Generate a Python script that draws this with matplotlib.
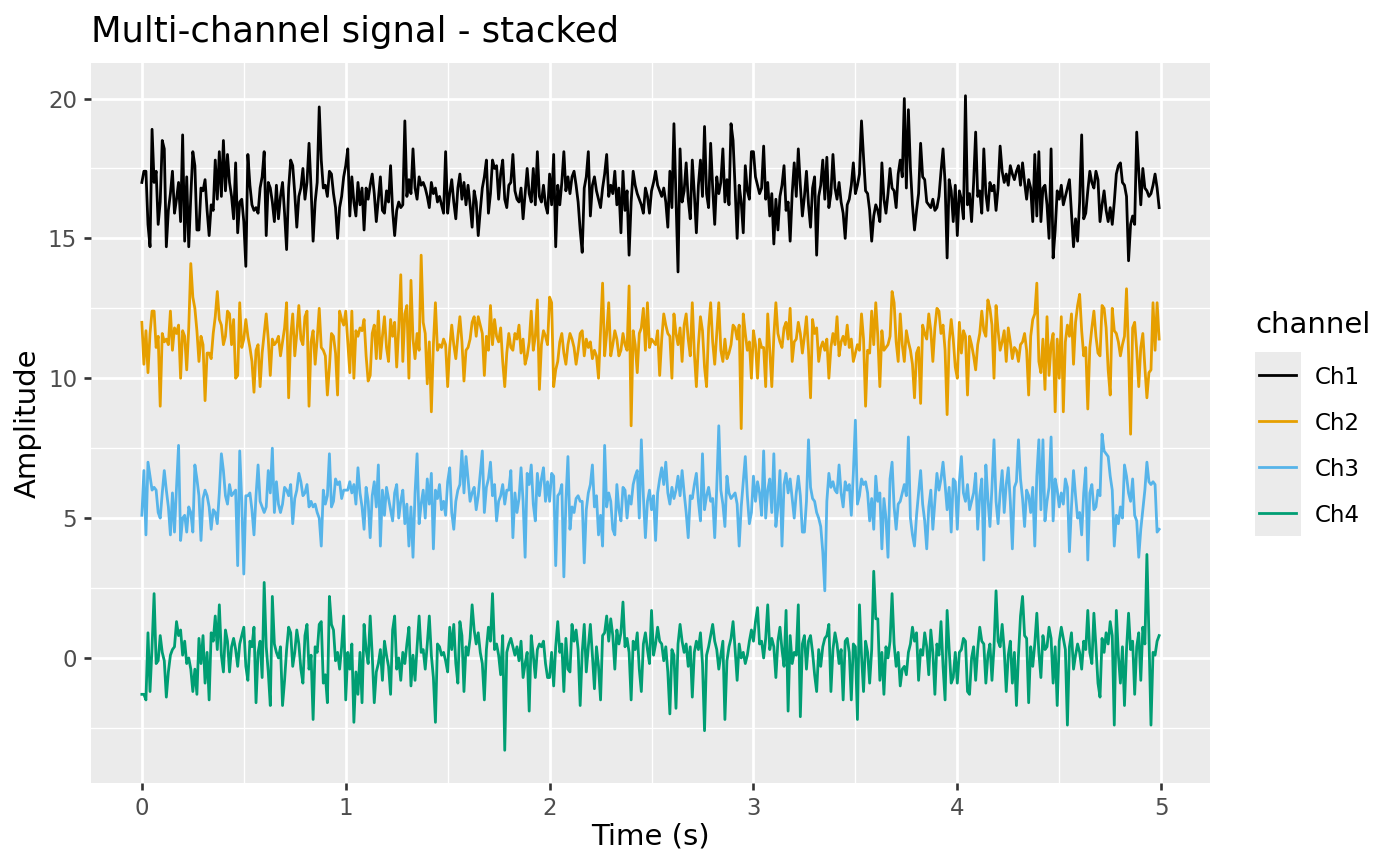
import numpy as np
import matplotlib
matplotlib.use("Agg")
import matplotlib.pyplot as plt
from matplotlib.ticker import MultipleLocator
from matplotlib.lines import Line2D
from matplotlib.patches import Rectangle

# 100 samples per second, 500 samples per channel
sample_rate = 100
n_samples = 500

channels = ["Ch1", "Ch2", "Ch3", "Ch4"]
colors = ["#000000", "#E69F00", "#56B4E9", "#009E73"]

ch1 = [
    17.0, 17.4, 17.4, 15.5, 14.7, 18.9, 17.0, 17.4, 15.5, 16.3,
    18.5, 18.2, 14.7, 16.0, 16.6, 17.4, 15.9, 16.4, 17.0, 15.6,
    18.7, 14.9, 17.2, 14.7, 16.5, 18.1, 17.6, 15.3, 15.3, 16.8,
    16.7, 17.1, 16.0, 15.1, 16.2, 16.0, 17.8, 16.4, 18.1, 16.5,
    18.5, 16.7, 18.0, 17.0, 16.5, 15.7, 17.7, 15.2, 16.3, 16.4,
    15.6, 14.0, 18.0, 16.9, 16.2, 16.0, 16.1, 15.9, 16.8, 17.2,
    18.1, 15.1, 17.0, 16.8, 16.3, 15.6, 16.9, 15.7, 16.5, 17.0,
    15.9, 14.6, 16.8, 17.8, 17.6, 16.6, 15.4, 16.5, 16.8, 17.5,
    16.4, 17.0, 18.4, 16.8, 14.9, 16.3, 17.0, 19.7, 17.8, 16.8,
    16.9, 16.5, 17.4, 17.3, 16.6, 16.1, 15.0, 16.1, 16.5, 17.2,
    17.6, 18.2, 15.8, 17.2, 16.3, 15.8, 17.0, 16.2, 16.8, 15.3,
    16.8, 16.4, 16.9, 17.3, 16.6, 15.6, 16.4, 17.2, 16.0, 15.9,
    16.7, 16.3, 17.6, 16.0, 15.1, 16.0, 16.3, 16.1, 16.2, 19.2,
    16.5, 17.1, 16.6, 18.2, 16.8, 16.4, 17.2, 16.9, 17.0, 16.8,
    16.5, 16.1, 17.0, 16.6, 16.8, 16.3, 16.5, 16.2, 15.9, 18.1,
    15.9, 16.6, 17.1, 16.3, 15.7, 16.8, 17.3, 16.4, 17.0, 16.2,
    16.9, 16.2, 15.4, 16.7, 16.3, 15.1, 16.0, 16.8, 17.2, 17.8,
    15.9, 16.6, 17.8, 17.5, 17.6, 16.4, 17.3, 17.8, 16.4, 16.1,
    16.9, 17.0, 18.0, 16.7, 16.4, 16.3, 16.8, 15.7, 16.6, 17.5,
    16.6, 16.3, 17.5, 16.2, 18.1, 16.5, 16.3, 16.9, 16.2, 15.9,
    17.3, 16.2, 18.0, 14.7, 16.9, 16.2, 17.0, 18.1, 16.7, 17.2,
    16.6, 17.2, 17.4, 16.9, 16.3, 15.3, 14.5, 16.8, 17.2, 18.1,
    15.8, 16.9, 17.2, 16.7, 16.4, 16.1, 16.8, 17.3, 18.0, 16.5,
    16.9, 16.6, 17.4, 16.2, 16.8, 15.2, 17.4, 16.0, 16.7, 14.4,
    16.3, 17.4, 16.9, 16.6, 16.4, 16.2, 15.9, 16.8, 16.5, 15.9,
    16.7, 17.0, 17.4, 16.9, 16.7, 16.5, 16.8, 16.3, 15.4, 17.4,
    16.1, 19.1, 16.4, 13.8, 18.2, 16.3, 16.7, 17.7, 16.4, 15.7,
    17.8, 16.6, 15.2, 16.9, 17.8, 16.5, 19.0, 16.6, 16.1, 18.4,
    16.8, 15.5, 17.2, 16.6, 17.0, 18.2, 16.3, 17.1, 16.2, 19.1,
    18.5, 16.8, 15.0, 16.9, 16.3, 15.2, 17.6, 16.7, 16.4, 18.1,
    18.1, 17.2, 16.9, 16.6, 16.8, 18.3, 16.4, 17.0, 15.8, 16.6,
    14.8, 16.4, 15.3, 16.5, 16.9, 17.6, 16.0, 16.3, 14.9, 16.6,
    17.7, 16.5, 18.2, 16.9, 15.8, 16.5, 17.4, 16.2, 15.4, 16.8,
    17.2, 14.4, 16.5, 16.9, 17.8, 16.4, 17.9, 16.1, 16.6, 18.0,
    16.8, 16.4, 17.0, 16.3, 15.9, 15.0, 16.2, 16.4, 16.9, 17.7,
    16.6, 16.9, 17.3, 19.2, 17.9, 16.7, 16.6, 16.0, 14.9, 15.8,
    16.2, 16.0, 15.6, 17.7, 16.4, 15.9, 16.6, 17.5, 16.8, 16.7,
    16.1, 17.3, 17.8, 17.2, 20.0, 16.8, 19.6, 17.5, 16.2, 15.3,
    16.0, 16.6, 18.4, 17.2, 17.1, 16.3, 16.2, 16.1, 16.4, 16.0,
    16.1, 16.5, 17.4, 18.2, 17.0, 14.3, 17.1, 16.7, 15.6, 16.9,
    15.1, 16.7, 16.4, 15.7, 20.1, 16.2, 16.6, 15.6, 17.0, 18.8,
    16.5, 16.7, 15.9, 18.2, 16.6, 16.0, 17.0, 16.7, 16.9, 16.0,
    16.8, 18.3, 17.4, 17.0, 17.3, 16.9, 17.6, 17.3, 17.1, 17.4,
    17.6, 16.9, 17.7, 17.0, 16.4, 17.1, 16.8, 15.6, 18.0, 15.8,
    18.1, 15.6, 16.8, 16.9, 16.2, 15.0, 18.2, 14.3, 15.3, 16.7,
    16.4, 16.9, 16.2, 16.5, 16.8, 17.1, 15.9, 14.7, 15.7, 14.9,
    16.3, 18.7, 15.7, 15.9, 16.7, 17.4, 17.0, 16.8, 17.4, 17.1,
    15.6, 16.2, 16.7, 16.0, 15.6, 16.1, 15.5, 16.3, 17.3, 17.6,
    17.7, 17.0, 16.9, 16.5, 14.2, 15.5, 15.8, 15.5, 18.8, 17.4,
    16.2, 17.5, 16.8, 16.7, 16.5, 16.6, 16.9, 17.3, 16.8, 16.1,
]

ch2 = [
    12.0, 10.5, 11.7, 10.2, 11.6, 12.4, 12.4, 11.1, 11.5, 9.0,
    11.6, 11.3, 11.4, 11.2, 12.4, 11.0, 11.8, 11.6, 11.9, 10.0,
    11.7, 11.5, 10.3, 11.8, 14.1, 12.9, 12.5, 11.7, 10.6, 11.5,
    11.2, 9.2, 10.9, 10.9, 10.7, 11.6, 12.2, 13.1, 12.1, 11.9,
    11.2, 11.5, 12.4, 12.3, 11.2, 12.1, 10.0, 10.1, 12.7, 11.1,
    11.4, 12.1, 11.5, 11.1, 10.6, 9.5, 11.0, 11.2, 9.7, 10.9,
    11.6, 12.3, 11.4, 10.1, 11.4, 11.2, 11.3, 11.5, 10.8, 11.3,
    11.8, 12.7, 9.3, 11.5, 12.3, 10.8, 11.6, 12.6, 11.4, 11.2,
    12.2, 12.4, 9.0, 11.3, 11.7, 10.5, 11.4, 12.5, 11.1, 11.0,
    10.8, 9.4, 10.4, 11.6, 11.5, 10.9, 9.4, 12.4, 12.1, 11.9,
    12.4, 11.3, 10.2, 12.4, 10.0, 11.7, 11.5, 11.8, 11.7, 12.1,
    10.8, 9.9, 10.1, 11.6, 11.9, 10.7, 12.4, 10.7, 11.5, 12.2,
    11.1, 10.6, 12.1, 11.5, 12.0, 10.4, 11.8, 13.7, 10.6, 12.3,
    12.6, 10.0, 13.5, 11.4, 10.7, 11.6, 11.0, 14.4, 12.0, 11.6,
    9.8, 11.3, 8.8, 11.2, 12.7, 11.0, 11.2, 11.1, 11.4, 11.2,
    9.7, 11.1, 11.9, 11.2, 10.7, 11.5, 12.2, 11.3, 9.9, 11.0,
    11.1, 11.4, 12.0, 12.2, 11.5, 12.2, 11.9, 11.6, 10.1, 11.5,
    11.0, 12.6, 11.2, 12.1, 11.5, 11.3, 11.8, 10.6, 9.7, 10.9,
    11.6, 11.1, 11.0, 11.6, 11.4, 11.9, 10.9, 11.4, 10.5, 10.8,
    11.3, 12.4, 11.0, 11.5, 12.8, 9.6, 11.2, 11.7, 11.5, 11.2,
    12.9, 12.7, 9.7, 10.3, 10.6, 11.3, 11.6, 10.9, 10.5, 11.2,
    11.6, 11.4, 11.1, 10.5, 11.0, 11.6, 11.7, 10.8, 11.4, 11.1,
    11.3, 10.7, 11.0, 10.8, 10.0, 11.7, 13.4, 10.8, 11.6, 12.7,
    10.8, 11.2, 11.7, 11.4, 10.8, 11.0, 11.6, 11.2, 11.0, 13.3,
    8.3, 11.7, 11.2, 10.2, 11.6, 11.8, 12.5, 11.0, 12.7, 11.1,
    11.4, 11.3, 11.2, 11.7, 10.1, 11.4, 12.3, 11.9, 11.6, 11.5,
    10.0, 12.3, 11.6, 11.2, 11.8, 10.6, 11.9, 12.3, 11.4, 10.8,
    12.7, 10.9, 9.7, 11.2, 12.2, 11.7, 10.4, 9.7, 11.8, 12.7,
    11.3, 10.5, 11.6, 12.7, 11.0, 10.6, 11.4, 10.7, 10.9, 11.2,
    11.9, 11.8, 11.4, 11.9, 8.2, 12.3, 11.6, 11.0, 11.3, 10.0,
    11.7, 11.2, 10.0, 11.4, 11.1, 11.1, 9.7, 12.3, 11.0, 9.7,
    11.5, 12.7, 11.6, 11.3, 11.1, 11.8, 12.0, 11.4, 12.5, 10.6,
    11.3, 11.4, 12.0, 11.6, 10.9, 11.5, 12.2, 11.0, 9.3, 12.1,
    11.6, 11.8, 10.6, 11.1, 11.3, 11.0, 11.4, 10.0, 11.1, 11.6,
    11.2, 12.2, 10.8, 11.3, 11.5, 11.2, 11.9, 11.1, 11.4, 10.6,
    10.9, 11.2, 11.0, 12.3, 11.4, 9.0, 11.0, 10.9, 12.4, 11.2,
    12.7, 11.5, 9.7, 11.7, 11.0, 11.1, 11.2, 11.5, 13.1, 12.7,
    11.3, 10.6, 12.3, 11.2, 10.6, 11.7, 11.3, 11.0, 10.5, 9.3,
    10.9, 11.1, 9.1, 11.9, 11.6, 11.4, 12.3, 11.7, 10.6, 11.8,
    12.5, 12.4, 11.6, 11.9, 11.0, 8.7, 11.3, 12.1, 11.4, 10.4,
    10.0, 12.0, 10.9, 11.7, 11.5, 9.4, 11.5, 11.2, 10.8, 10.3,
    11.2, 11.6, 12.4, 11.7, 11.5, 12.8, 12.5, 11.9, 10.0, 12.6,
    11.7, 11.0, 11.3, 11.7, 10.6, 11.8, 11.3, 10.7, 11.1, 11.0,
    10.6, 11.2, 11.3, 11.6, 11.0, 9.4, 11.5, 12.1, 12.3, 13.4,
    10.6, 10.2, 11.4, 9.6, 12.2, 10.1, 11.2, 11.6, 8.8, 11.4,
    10.0, 12.2, 8.8, 11.3, 11.9, 11.5, 12.3, 10.5, 12.0, 12.6,
    13.0, 11.7, 10.8, 11.1, 8.9, 11.1, 11.8, 12.4, 11.5, 10.9,
    10.8, 12.6, 12.5, 11.8, 10.3, 9.4, 12.5, 11.7, 11.6, 11.3,
    10.8, 11.2, 11.5, 13.2, 10.9, 8.0, 11.8, 12.0, 11.0, 9.7,
    11.1, 11.6, 10.4, 9.3, 10.2, 10.3, 12.7, 11.0, 12.7, 11.4,
]

ch3 = [
    5.1, 6.7, 4.4, 7.0, 6.5, 6.0, 6.1, 6.0, 5.2, 5.0,
    5.9, 6.7, 6.0, 5.4, 4.4, 5.9, 4.5, 6.1, 7.6, 4.2,
    5.0, 5.1, 4.5, 5.4, 5.2, 4.5, 6.9, 6.4, 5.8, 4.2,
    5.7, 6.0, 5.8, 5.4, 4.6, 5.3, 5.2, 4.8, 5.9, 7.3,
    6.7, 5.8, 5.5, 6.2, 5.8, 5.9, 6.0, 3.3, 7.4, 5.6,
    3.0, 5.8, 5.8, 5.9, 5.3, 4.4, 5.8, 6.9, 5.6, 5.4,
    5.2, 5.4, 6.7, 5.9, 7.5, 5.2, 6.3, 5.5, 5.2, 5.5,
    6.1, 6.0, 5.8, 6.2, 4.8, 5.7, 6.0, 6.6, 6.3, 5.8,
    5.9, 6.2, 5.4, 5.6, 5.4, 5.5, 5.2, 5.0, 4.0, 6.0,
    5.5, 5.8, 7.3, 5.4, 5.6, 6.4, 6.2, 6.3, 5.7, 6.0,
    6.0, 6.0, 6.3, 5.9, 6.2, 5.5, 6.8, 5.9, 5.4, 4.6,
    6.1, 5.6, 4.3, 5.8, 6.3, 5.4, 6.9, 4.0, 6.0, 5.1,
    6.1, 5.7, 5.3, 4.9, 5.9, 6.2, 5.0, 5.6, 6.0, 4.8,
    5.5, 4.0, 5.4, 3.6, 5.9, 7.3, 4.8, 5.5, 6.0, 5.0,
    6.4, 5.5, 6.6, 3.9, 6.0, 5.7, 6.2, 5.3, 5.6, 5.1,
    6.3, 6.8, 5.2, 4.6, 5.6, 6.0, 6.2, 7.4, 5.9, 7.2,
    6.4, 5.6, 5.9, 6.1, 5.3, 5.8, 6.6, 7.4, 5.2, 6.1,
    6.4, 7.0, 5.8, 6.2, 4.9, 5.6, 5.8, 6.2, 5.5, 6.0,
    6.0, 6.7, 4.3, 5.9, 5.2, 5.7, 6.8, 5.6, 3.6, 6.6,
    6.2, 6.9, 5.5, 4.9, 6.6, 5.8, 6.4, 6.8, 5.6, 6.3,
    5.6, 6.6, 6.5, 3.3, 5.8, 5.9, 6.2, 2.9, 5.6, 7.2,
    4.6, 5.4, 5.2, 5.7, 5.8, 5.6, 5.6, 3.4, 5.3, 5.9,
    6.2, 6.9, 5.4, 5.8, 4.4, 5.1, 4.0, 7.6, 5.4, 5.9,
    5.6, 4.6, 4.4, 6.2, 5.3, 4.9, 6.1, 6.0, 5.0, 5.8,
    5.5, 6.2, 6.5, 6.7, 5.0, 7.8, 5.8, 4.3, 5.6, 6.0,
    5.3, 5.8, 4.2, 5.9, 6.4, 6.8, 6.2, 7.0, 5.9, 5.5,
    6.1, 5.7, 6.0, 6.5, 5.8, 6.7, 5.9, 5.2, 4.3, 5.8,
    5.7, 6.2, 6.6, 5.6, 4.9, 7.3, 5.3, 5.8, 6.1, 5.6,
    5.7, 4.3, 6.1, 8.3, 6.0, 5.5, 4.7, 6.5, 5.9, 5.7,
    5.8, 5.9, 5.5, 4.0, 5.4, 6.3, 7.2, 5.8, 4.8, 5.2,
    6.5, 5.6, 6.3, 5.9, 5.1, 7.4, 5.0, 6.0, 6.4, 5.2,
    7.3, 4.7, 5.4, 6.7, 4.0, 6.2, 6.6, 5.9, 6.4, 5.7,
    5.0, 5.9, 6.5, 5.8, 4.5, 4.5, 5.6, 7.8, 6.1, 5.7,
    5.6, 5.2, 5.0, 4.7, 3.8, 2.4, 5.6, 6.6, 6.1, 6.3,
    6.0, 5.9, 6.9, 5.9, 5.4, 6.3, 6.0, 6.2, 5.1, 6.6,
    8.5, 5.5, 5.8, 6.4, 6.2, 6.3, 5.9, 4.9, 5.7, 4.6,
    6.5, 5.6, 5.9, 3.9, 5.7, 5.0, 3.6, 6.4, 7.0, 5.4,
    4.6, 5.5, 5.6, 5.9, 6.2, 5.8, 7.9, 5.0, 4.4, 4.0,
    5.1, 5.9, 6.7, 5.5, 4.9, 3.9, 5.4, 6.0, 4.6, 5.6,
    6.6, 6.0, 6.4, 7.0, 6.2, 5.3, 6.1, 4.5, 6.4, 6.3,
    4.6, 6.3, 7.2, 5.9, 5.6, 6.2, 5.3, 5.6, 5.9, 6.6,
    4.6, 5.8, 6.4, 3.5, 6.9, 5.7, 4.7, 6.1, 7.8, 5.6,
    4.8, 5.9, 6.7, 5.2, 6.2, 6.8, 5.6, 3.9, 6.1, 6.3,
    7.8, 6.4, 5.7, 4.7, 6.0, 5.8, 5.2, 6.1, 4.0, 6.5,
    7.8, 5.3, 7.8, 4.9, 5.6, 6.1, 7.9, 4.9, 6.4, 6.0,
    5.4, 5.9, 5.5, 6.4, 6.1, 3.8, 5.4, 6.7, 5.8, 5.0,
    5.2, 4.4, 5.9, 6.8, 3.5, 5.9, 6.2, 5.3, 5.4, 6.0,
    5.8, 8.0, 7.4, 7.3, 7.2, 6.5, 6.0, 4.0, 5.1, 4.8,
    5.4, 5.0, 6.9, 6.5, 5.9, 5.6, 6.4, 5.1, 4.9, 3.6,
    4.6, 5.3, 6.0, 7.0, 6.3, 6.2, 6.3, 6.2, 4.5, 4.6,
]

ch4 = [
    -1.3, -1.3, -1.5, 0.9, -1.2, 0.4, 2.3, -0.2, -0.1, 0.8,
    0.2, -0.1, -1.4, -0.5, 0.1, 0.3, 0.4, 1.3, 0.8, 1.0,
    0.1, 0.6, -0.2, 0.0, -0.4, -1.2, -0.4, -1.3, 0.7, -0.2,
    0.8, -0.9, 0.2, -1.5, 0.9, 0.6, 1.5, 0.3, 1.9, 0.1,
    -0.5, 1.0, 0.6, -0.5, 0.4, 0.7, 0.3, -0.3, 0.5, 0.8,
    1.1, -0.3, -0.8, 0.6, 0.4, 1.1, -1.6, 0.2, 0.6, -0.7,
    2.7, 0.4, -0.5, -1.7, 2.2, 0.5, 0.2, 0.0, 0.4, -1.7,
    -0.8, 0.3, 1.1, 0.9, -0.3, 0.2, 1.0, 0.5, -0.4, -0.9,
    0.8, 1.2, -0.4, 0.1, -2.2, 0.4, 0.2, 1.2, 1.3, -0.9,
    -0.6, -1.6, 2.2, 1.2, 1.0, -0.1, 0.2, -0.4, 0.4, 1.5,
    -1.5, 0.2, -0.4, 0.5, -2.3, -0.5, -1.3, 0.2, -1.6, 1.2,
    0.3, -0.2, 1.5, 0.1, -1.6, -0.5, -0.2, 0.3, -0.8, 0.6,
    0.1, -0.3, -1.3, 1.0, 1.5, -0.4, 0.0, -0.8, 0.2, -0.2,
    0.5, 1.1, -1.0, 0.1, -0.8, 0.4, 1.5, 0.2, 0.3, -0.4,
    0.5, 1.5, 0.1, -0.7, -2.3, 0.5, 0.4, 0.1, 0.2, -0.1,
    -0.5, 1.1, 0.3, 1.2, -0.2, -0.9, 1.3, 0.8, -1.2, 0.4,
    0.1, 0.7, 1.9, 1.0, 0.5, 0.9, 0.2, -0.2, -1.5, 0.3,
    1.1, 0.6, 2.3, 0.3, 0.5, 0.1, -0.6, 0.8, -3.3, 0.2,
    0.5, 0.7, 0.4, 0.1, 0.4, -0.1, 0.6, -0.7, -0.2, 0.2,
    -1.9, 0.8, 0.1, -0.7, 0.3, 0.5, 0.4, 0.6, -0.2, -0.7,
    -0.7, 0.2, -1.0, 0.4, 1.3, 0.2, 0.5, -1.2, 0.7, -0.4,
    -0.5, 1.2, 0.6, 1.0, 0.3, -1.7, 0.2, 1.2, -0.5, 0.4,
    1.2, 0.1, -1.1, 0.4, -0.3, -1.5, 0.8, 0.9, 1.5, 0.6,
    1.4, 0.8, -0.4, 1.0, 0.5, 0.9, 2.0, 0.4, 0.7, 0.2,
    -1.5, 0.6, 0.3, 0.9, -0.4, -1.2, 0.5, 0.9, 0.3, -0.2,
    1.7, 0.1, 0.5, 1.1, 0.6, 0.5, -0.1, 0.4, -0.5, -2.0,
    0.3, 0.1, -1.8, 0.5, 1.2, 0.6, 0.2, 0.5, -0.3, 0.4,
    -1.4, 0.2, 0.6, 0.3, 0.9, -0.2, -2.6, 0.1, 0.4, 0.8,
    1.2, 0.6, 0.3, -0.4, 0.1, 0.6, -2.2, -0.1, 0.4, 0.7,
    1.3, 0.3, -0.8, 0.5, 0.0, 0.2, -0.2, 0.1, 0.6, 1.0,
    0.6, 1.3, 1.8, 0.5, 0.6, 0.0, 0.7, 1.9, 0.3, 0.7,
    0.4, -0.7, 0.6, 1.1, 0.3, -0.3, 1.7, -1.9, 0.8, -0.2,
    0.2, 0.1, 1.9, -2.1, 0.5, 0.8, -0.4, 0.6, 0.8, 0.2,
    -0.6, -1.2, 0.3, -0.3, 0.4, 0.7, 0.8, 1.2, -1.2, 0.3,
    0.9, 0.5, -0.2, 0.3, -1.5, 0.6, 0.7, 0.2, -1.5, 0.5,
    0.4, -2.2, 1.9, 0.1, -1.2, 0.6, 0.2, -0.9, 0.3, 3.1,
    1.4, 1.4, -0.8, 0.2, -1.3, 0.4, 0.0, 0.6, 2.3, 0.5,
    -0.3, 0.2, -1.0, -0.4, -0.3, -0.6, 0.2, 0.5, 1.1, 0.6,
    0.9, -0.8, 0.3, 0.1, 0.9, 0.4, -0.6, 1.0, 0.2, -1.3,
    0.5, 0.1, 1.3, -0.3, -1.5, 1.7, 0.3, -0.9, -0.7, 0.2,
    -0.9, 0.2, 0.3, 0.7, 0.6, -1.2, -1.3, 0.0, 0.4, -0.8,
    0.3, 1.1, 0.6, 0.5, -0.9, 0.1, 0.5, -0.8, 0.4, 2.4,
    0.6, 0.4, 1.2, 0.3, -1.2, 0.1, 0.6, -0.9, 0.2, -1.7,
    0.1, 1.5, 2.2, 0.8, 0.7, -1.6, 0.4, -0.3, 0.5, 1.6,
    0.2, -0.7, 0.8, 0.3, 0.4, 1.1, 0.7, -0.9, 0.4, -1.7,
    0.6, 1.1, 0.7, 0.3, -2.4, 0.4, 0.9, -0.4, 0.1, 0.5,
    0.2, -0.4, 0.6, 0.3, 1.7, 0.2, -0.2, 1.6, 0.4, -0.9,
    -1.4, 0.7, 0.2, 0.9, 0.5, 1.3, 0.8, -2.4, 1.7, 0.1,
    -0.9, 0.4, -1.7, 0.3, 1.6, 0.3, 0.6, -1.3, 0.4, 0.9,
    -0.8, 1.1, 0.5, 3.7, 0.8, -2.4, 0.2, 0.1, 0.6, 0.8,
]

signals = [ch1, ch2, ch3, ch4]
for s in signals:
    assert len(s) == n_samples
time_s = np.arange(n_samples) / sample_rate

W, H = 1400, 866
fig = plt.figure(figsize=(W / 100, H / 100), dpi=100)
fig.patch.set_facecolor("white")

# panel placed in pixel terms
left, right, top, bottom = 91, 1210, 63, 783
ax = fig.add_axes([left / W, 1 - bottom / H, (right - left) / W, (bottom - top) / H])
ax.set_facecolor("#EBEBEB")

for name, col, vals in zip(channels, colors, signals):
    ax.plot(time_s, vals, color=col, lw=2.0, solid_joinstyle="round", label=name)

ax.margins(x=0.05, y=0.05)

ax.xaxis.set_major_locator(MultipleLocator(1))
ax.xaxis.set_minor_locator(MultipleLocator(0.5))
ax.yaxis.set_major_locator(MultipleLocator(5))
ax.yaxis.set_minor_locator(MultipleLocator(2.5))
ax.set_axisbelow(True)
ax.grid(which="major", color="white", lw=1.95)
ax.grid(which="minor", color="white", lw=0.95)
for sp in ax.spines.values():
    sp.set_visible(False)

ax.tick_params(which="major", length=5, width=1.9, color="#333333",
               labelsize=16.5, labelcolor="#4D4D4D", pad=5)
ax.tick_params(which="minor", length=0)

fig.text(91 / W, 1 - 42 / H, "Multi-channel signal - stacked", fontsize=25.5,
         ha="left", va="baseline", color="black")
fig.text((left + right) / 2 / W, 1 - 845 / H, "Time (s)", fontsize=21,
         ha="center", va="baseline")
fig.text(28 / W, 1 - (top + bottom) / 2 / H, "Amplitude", fontsize=21,
         ha="center", va="center", rotation=90)

# legend, ggplot style
fig.text(1255 / W, 1 - 333 / H, "channel", fontsize=21, ha="left", va="baseline")
fig.add_artist(Rectangle((1255 / W, 1 - 536 / H), 46 / W, 184 / H,
                         transform=fig.transFigure, facecolor="#EBEBEB",
                         edgecolor="none"))
for i, (name, col) in enumerate(zip(channels, colors)):
    yc = 1 - (375 + i * 46) / H
    fig.add_artist(Line2D([1259 / W, 1296 / W], [yc, yc], color=col, lw=2.0,
                          transform=fig.transFigure))
    fig.text(1315 / W, yc, name, fontsize=16.5, ha="left", va="center_baseline")

fig.savefig("out.png", dpi=100)
